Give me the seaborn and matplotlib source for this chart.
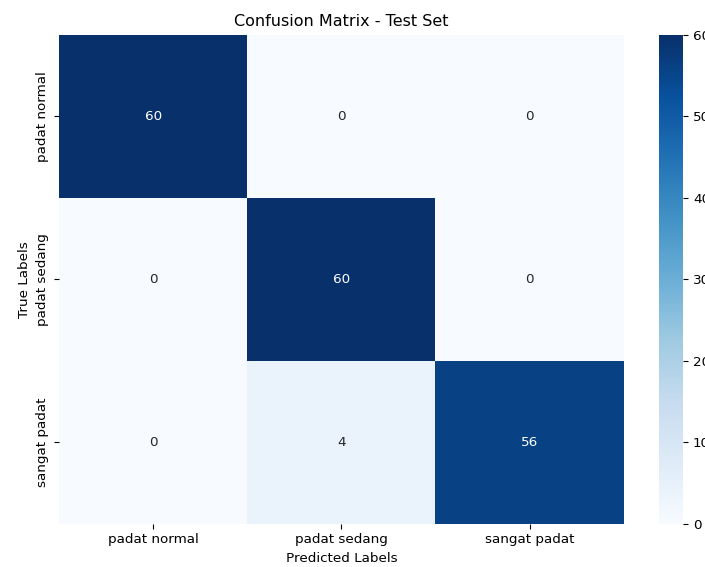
import numpy as np
import matplotlib
matplotlib.use("Agg")
import matplotlib.pyplot as plt
import seaborn as sns

classes = ["padat normal", "padat sedang", "sangat padat"]
row_normal = [60, 0, 0]
row_sedang = [0, 60, 0]
row_sangat = [0, 4, 56]
cbar_ticks = [0, 10, 20, 30, 40, 50, 60]

cm = np.array([row_normal, row_sedang, row_sangat])

plt.rcParams['font.family'] = ['DejaVu Sans']
fig = plt.figure(figsize=(7.05, 5.67), dpi=100)
ax = fig.add_axes([0.0837, 0.0767, 0.801, 0.862])
cax = fig.add_axes([0.935, 0.0767, 0.034, 0.862])

fs = 9.7
sns.heatmap(cm, annot=True, fmt="d", cmap="Blues", xticklabels=classes,
            yticklabels=classes, ax=ax, cbar_ax=cax, vmin=0, vmax=60,
            annot_kws={"fontsize": fs})
ax.set_title("Confusion Matrix - Test Set", fontsize=11.5)
ax.set_xlabel("Predicted Labels", fontsize=fs)
ax.set_ylabel("True Labels", fontsize=fs)
ax.tick_params(labelsize=fs)
cax.tick_params(labelsize=fs)
cax.set_yticks(cbar_ticks)
fig.savefig("out.png", dpi=100)
